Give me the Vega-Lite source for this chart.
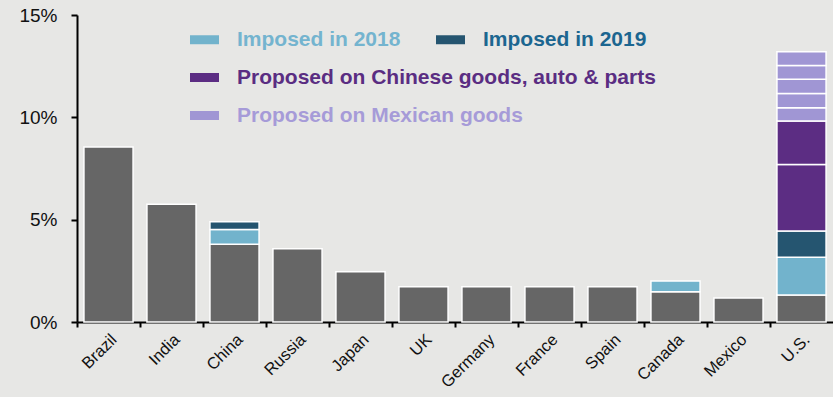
{
  "$schema": "https://vega.github.io/schema/vega-lite/v6.json",
  "width": 756,
  "height": 307,
  "autosize": {"type": "none"},
  "padding": {"left": 77, "top": 15, "right": 0, "bottom": 75},
  "background": "#e7e7e5",
  "config": {"view": {"stroke": null}, "font": "Liberation Sans"},
  "data": {
    "values": [
      {"country": "Brazil", "cat": "Base", "value": 8.55, "ord": 0},
      {"country": "India", "cat": "Base", "value": 5.75, "ord": 0},
      {"country": "China", "cat": "Base", "value": 3.8, "ord": 0},
      {"country": "China", "cat": "Imposed in 2018", "value": 0.72, "ord": 1},
      {"country": "China", "cat": "Imposed in 2019", "value": 0.38, "ord": 2},
      {"country": "Russia", "cat": "Base", "value": 3.58, "ord": 0},
      {"country": "Japan", "cat": "Base", "value": 2.45, "ord": 0},
      {"country": "UK", "cat": "Base", "value": 1.72, "ord": 0},
      {"country": "Germany", "cat": "Base", "value": 1.72, "ord": 0},
      {"country": "France", "cat": "Base", "value": 1.72, "ord": 0},
      {"country": "Spain", "cat": "Base", "value": 1.72, "ord": 0},
      {"country": "Canada", "cat": "Base", "value": 1.48, "ord": 0},
      {"country": "Canada", "cat": "Imposed in 2018", "value": 0.52, "ord": 1},
      {"country": "Mexico", "cat": "Base", "value": 1.17, "ord": 0},
      {"country": "U.S.", "cat": "Base", "value": 1.32, "ord": 0},
      {"country": "U.S.", "cat": "Imposed in 2018", "value": 1.84, "ord": 1},
      {"country": "U.S.", "cat": "Imposed in 2019", "value": 1.29, "ord": 2},
      {"country": "U.S.", "cat": "Proposed on Chinese goods, auto & parts", "value": 3.24, "ord": 3},
      {"country": "U.S.", "cat": "Proposed on Chinese goods, auto & parts", "value": 2.13, "ord": 4},
      {"country": "U.S.", "cat": "Proposed on Mexican goods", "value": 0.65, "ord": 5},
      {"country": "U.S.", "cat": "Proposed on Mexican goods", "value": 0.7, "ord": 6},
      {"country": "U.S.", "cat": "Proposed on Mexican goods", "value": 0.69, "ord": 7},
      {"country": "U.S.", "cat": "Proposed on Mexican goods", "value": 0.67, "ord": 8},
      {"country": "U.S.", "cat": "Proposed on Mexican goods", "value": 0.67, "ord": 9}
    ]
  },
  "transform": [
    {"stack": "value", "groupby": ["country"], "sort": [{"field": "ord", "order": "ascending"}], "as": ["v0", "v1"]}
  ],
  "encoding": {
    "x": {
      "field": "country",
      "type": "nominal",
      "sort": ["Brazil", "India", "China", "Russia", "Japan", "UK", "Germany", "France", "Spain", "Canada", "Mexico", "U.S."],
      "scale": {"paddingInner": 0, "paddingOuter": 0},
      "axis": {
        "title": null,
        "labelAngle": -45,
        "bandPosition": 0,
        "domainColor": "#000000",
        "domainWidth": 2,
        "tickColor": "#000000",
        "tickWidth": 2,
        "tickSize": 5,
        "labelFontSize": 16.5,
        "labelColor": "#111111",
        "labelPadding": 4
      }
    },
    "y": {
      "field": "v0",
      "type": "quantitative",
      "scale": {"domain": [0, 15], "nice": false},
      "axis": {
        "title": null,
        "values": [0, 5, 10, 15],
        "labelExpr": "datum.value + '%'",
        "grid": false,
        "domainColor": "#000000",
        "domainWidth": 2,
        "tickColor": "#000000",
        "tickWidth": 2,
        "tickSize": 6,
        "labelFontSize": 19,
        "labelColor": "#111111",
        "labelPadding": 14
      }
    },
    "y2": {"field": "v1"}
  },
  "layer": [
    {
      "transform": [{"filter": "datum.cat === 'Base'"}],
      "mark": {"type": "bar", "fill": "#666666", "stroke": "white", "strokeWidth": 1.5, "width": {"band": 0.78}}
    },
    {
      "transform": [{"filter": "datum.cat === 'Imposed in 2018' || datum.cat === 'Imposed in 2019'"}],
      "mark": {"type": "bar", "stroke": "white", "strokeWidth": 1.5, "width": {"band": 0.78}, "opacity": 1},
      "encoding": {
        "color": {
          "field": "cat",
          "type": "nominal",
          "scale": {"domain": ["Imposed in 2018", "Imposed in 2019"], "range": ["#72b3cc", "#255570"]},
          "legend": {
            "orient": "none",
            "legendX": 113,
            "legendY": 10,
            "direction": "horizontal",
            "columns": 2,
            "title": null,
            "symbolType": "M-1,-0.31L1,-0.31L1,0.31L-1,0.31Z",
            "symbolSize": 841,
            "symbolStrokeWidth": 0,
            "symbolOpacity": 1,
            "symbolFillColor": {"expr": "datum.value === 'Imposed in 2018' ? '#74b4cf' : '#1c6690'"},
            "labelColor": {"expr": "datum.value === 'Imposed in 2018' ? '#74b4cf' : '#1c6690'"},
            "labelFontSize": 21,
            "labelFont": "Liberation Sans",
            "labelFontWeight": "bold",
            "labelOffset": 18,
            "columnPadding": 35,
            "labelLimit": 700
          }
        }
      }
    },
    {
      "transform": [{"filter": "datum.cat === 'Proposed on Chinese goods, auto & parts' || datum.cat === 'Proposed on Mexican goods'"}],
      "mark": {"type": "bar", "stroke": "white", "strokeWidth": 1.5, "width": {"band": 0.78}, "opacity": 1},
      "encoding": {
        "color": {
          "field": "cat",
          "type": "nominal",
          "scale": {"domain": ["Proposed on Chinese goods, auto & parts", "Proposed on Mexican goods"], "range": ["#5c2d83", "#a096d4"]},
          "legend": {
            "orient": "none",
            "legendX": 113,
            "legendY": 48,
            "direction": "vertical",
            "title": null,
            "symbolType": "M-1,-0.31L1,-0.31L1,0.31L-1,0.31Z",
            "symbolSize": 841,
            "symbolStrokeWidth": 0,
            "symbolOpacity": 1,
            "labelColor": {"expr": "datum.value === 'Proposed on Mexican goods' ? '#a69bd8' : '#5a2d82'"},
            "labelFontSize": 21,
            "labelFont": "Liberation Sans",
            "labelFontWeight": "bold",
            "labelOffset": 18,
            "rowPadding": 13,
            "labelLimit": 700
          }
        }
      }
    }
  ],
  "resolve": {"scale": {"color": "independent"}, "legend": {"color": "independent"}}
}
